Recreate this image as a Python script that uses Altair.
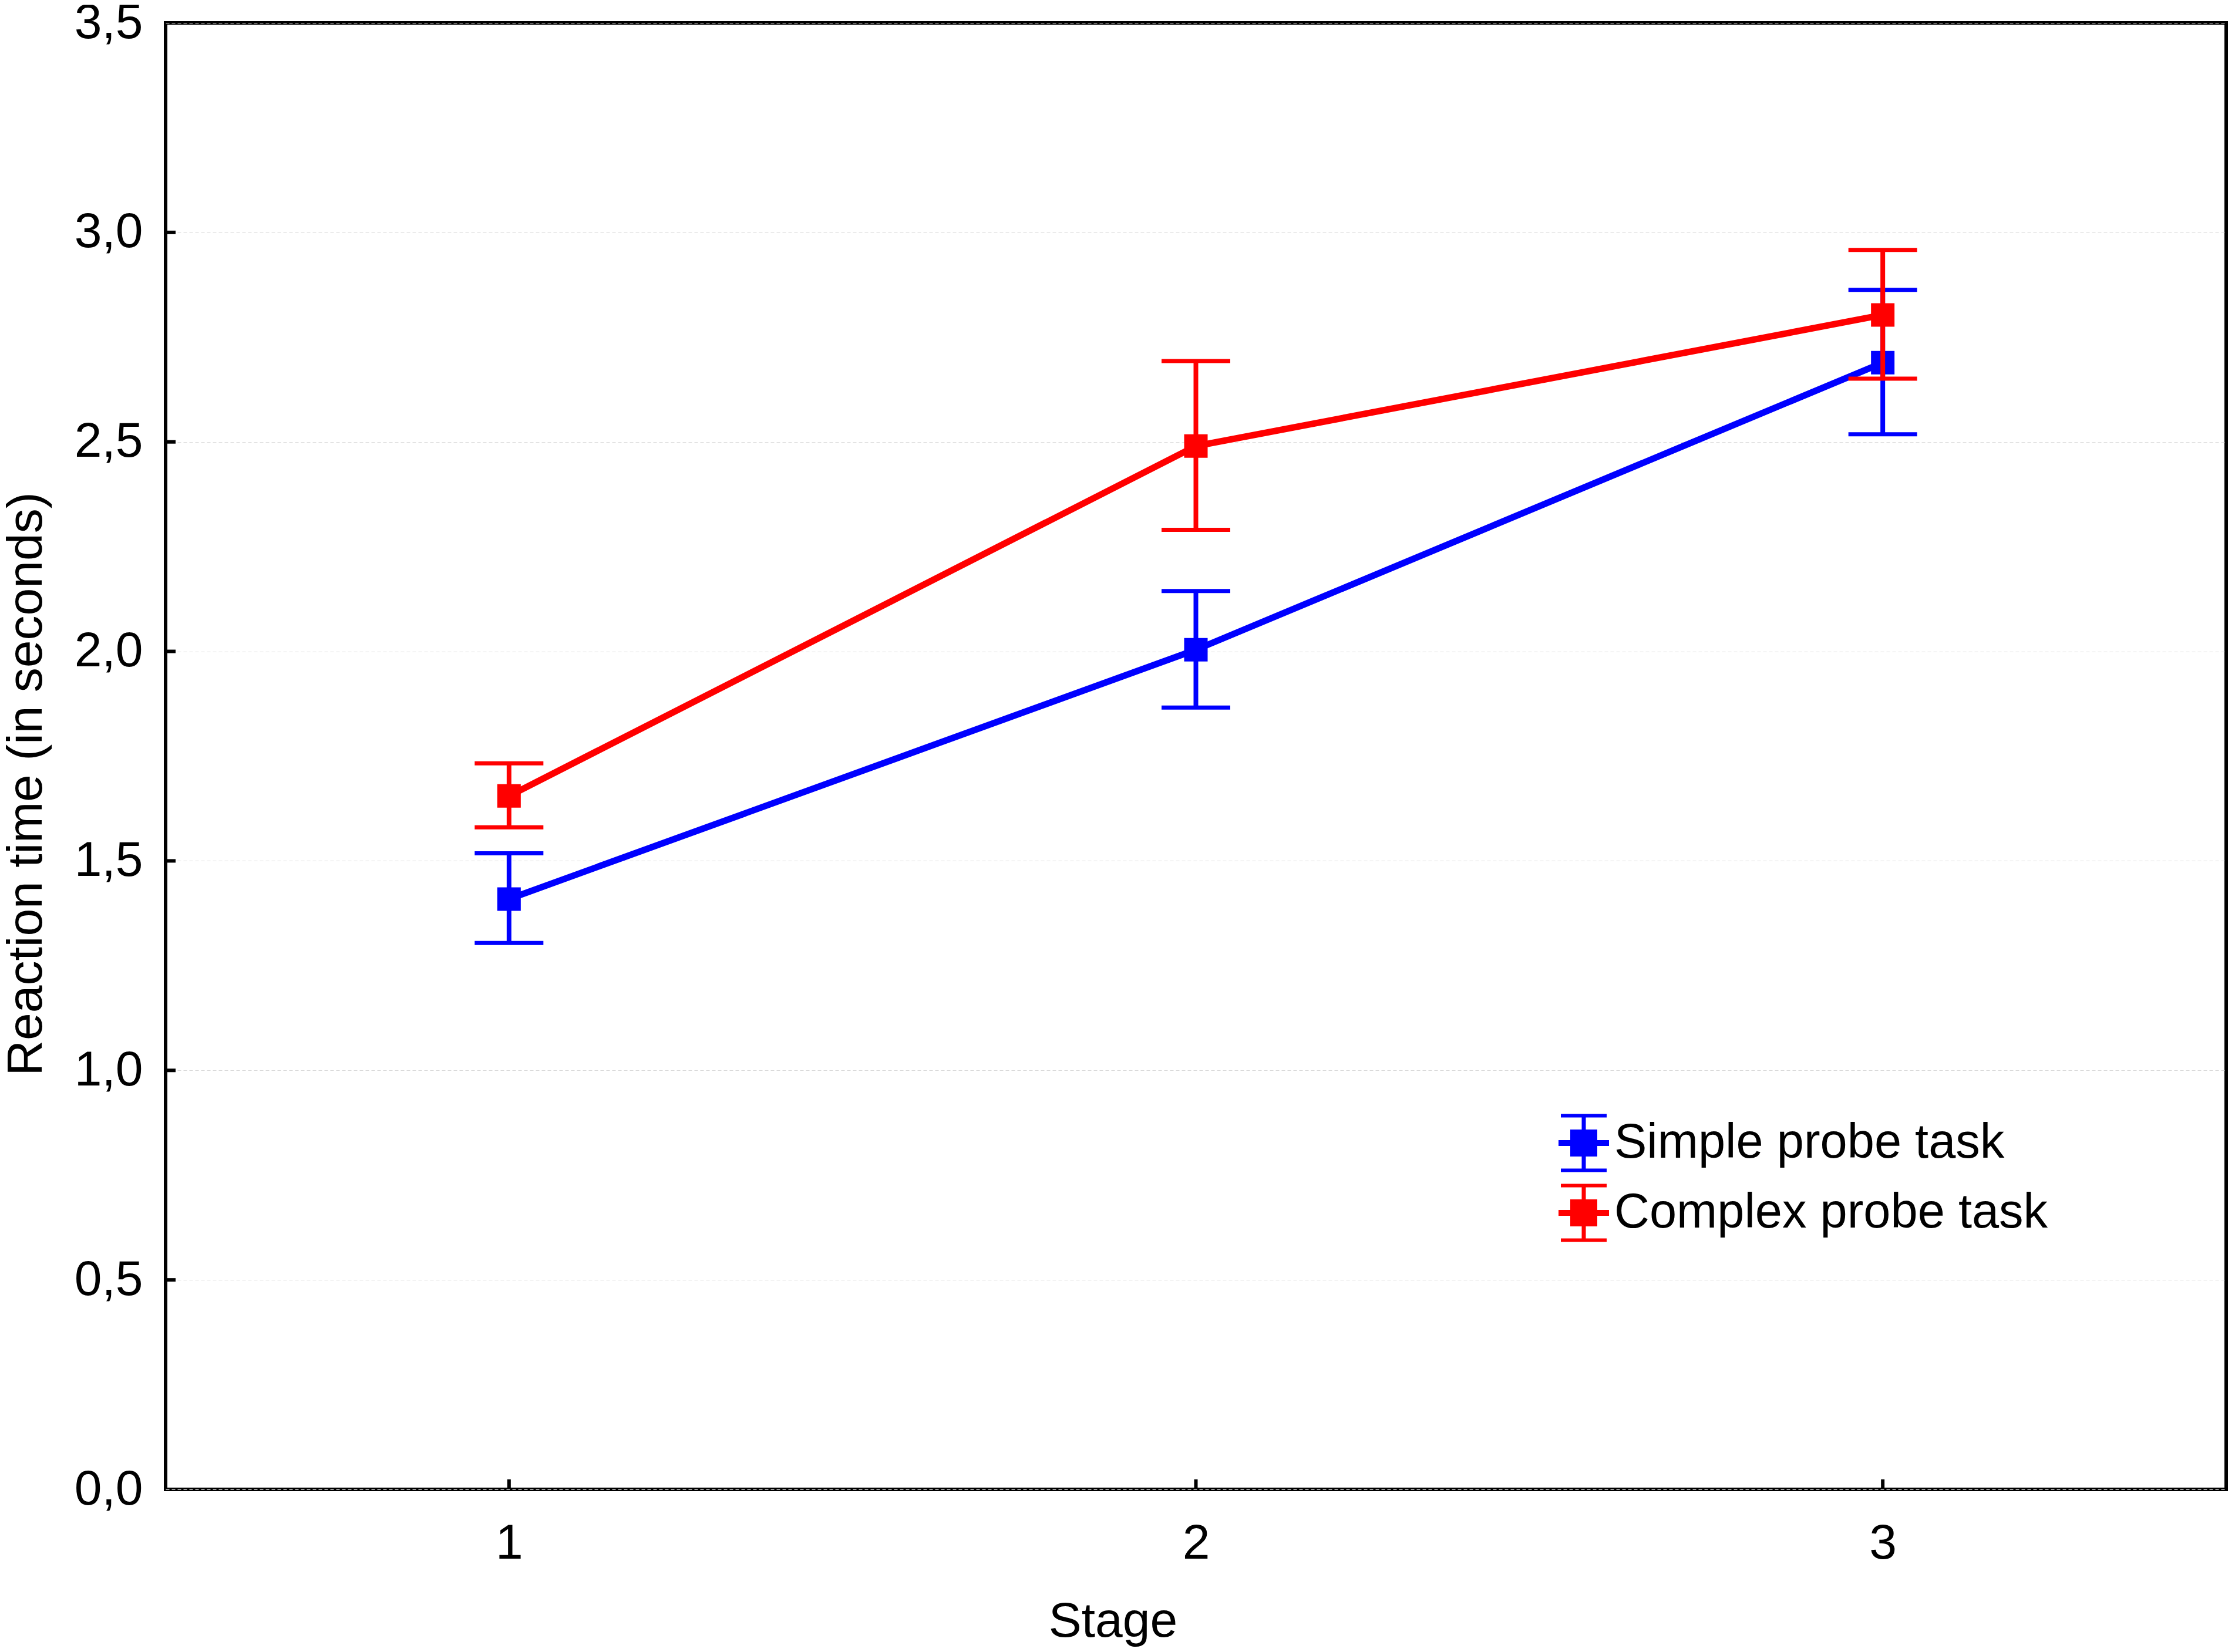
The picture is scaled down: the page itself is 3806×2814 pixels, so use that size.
import altair as alt
import pandas as pd

# ---- data ----
stages = [1, 2, 3]
series_names = ["Simple probe task", "Complex probe task"]
series_colors = ["#0000ff", "#ff0000"]

simple_mean = [1.409, 2.004, 2.689]
simple_lo = [1.304, 1.866, 2.518]
simple_hi = [1.518, 2.144, 2.863]

complex_mean = [1.655, 2.490, 2.803]
complex_lo = [1.580, 2.290, 2.651]
complex_hi = [1.733, 2.693, 2.958]

y_axis_values = [0.0, 0.5, 1.0, 1.5, 2.0, 2.5, 3.0, 3.5]
y_inner_ticks = [0.5, 1.0, 1.5, 2.0, 2.5, 3.0]
x_axis_values = [1, 2, 3]

rows = []
for name, means, los, his in [
    (series_names[0], simple_mean, simple_lo, simple_hi),
    (series_names[1], complex_mean, complex_lo, complex_hi),
]:
    for s, m, lo, hi in zip(stages, means, los, his):
        rows.append({"stage": s, "series": name, "mean": m, "lo": lo, "hi": hi})
df = pd.DataFrame(rows)
ytick_df = pd.DataFrame({"v": y_inner_ticks})
xtick_df = pd.DataFrame({"v": x_axis_values})

W, H = 3509, 2498
FONT = "Liberation Sans"
FS = 84

xscale = alt.Scale(domain=[0.5, 3.5], nice=False, zero=False)
yscale = alt.Scale(domain=[0, 3.5], nice=False, zero=False)

x_axis = alt.Axis(
    values=x_axis_values, format="d", title="Stage", grid=False, ticks=False, tickSize=0,
    domain=False, labelPadding=51, labelFontSize=FS, titleFontSize=FS, labelFont=FONT,
    titleFont=FONT, titleFontWeight="normal", labelColor="black", titleColor="black",
    titleX=1613, titleY=250, titleBaseline="alphabetic", titleAlign="center",
)
y_axis = alt.Axis(
    values=y_axis_values, labelExpr="replace(format(datum.value, '.1f'), '.', ',')",
    title="Reaction time (in seconds)", grid=True, gridDash=[6, 4], gridColor="#d9d9d9",
    gridWidth=1, ticks=False, tickSize=0, domain=False, labelPadding=39,
    labelFontSize=FS, titleFontSize=FS, labelFont=FONT, titleFont=FONT,
    titleFontWeight="normal", labelColor="black", titleColor="black",
    titleX=-212, titleY=1296, titleAngle=270, titleBaseline="alphabetic", titleAlign="center",
)


def rect(x0, y0, x1, y1):
    return f"M{x0},{y0}L{x1},{y0}L{x1},{y1}L{x0},{y1}Z"


legend_symbol = (
    rect(-0.78, -0.99, 0.78, -0.87)
    + rect(-0.78, 0.87, 0.78, 0.99)
    + rect(-0.07, -0.93, 0.07, 0.93)
    + rect(-0.46, -0.46, 0.46, 0.46)
    + rect(-0.86, -0.1, 0.86, 0.1)
)

legend = alt.Legend(
    title=None, orient="none", legendX=2365, legendY=1858, symbolType=legend_symbol,
    symbolSize=10000, symbolStrokeWidth=0, labelFontSize=83, labelFont=FONT,
    labelColor="black", labelOffset=2, rowPadding=19, padding=0, labelLimit=2000,
)

X = alt.X("stage:Q", scale=xscale, axis=x_axis)

layers = []
for name, col in zip(series_names, series_colors):
    b = alt.Chart(df).transform_filter(alt.datum.series == name)
    layers.append(
        b.mark_line(color=col, strokeWidth=11).encode(
            x=X, y=alt.Y("mean:Q", scale=yscale, axis=y_axis)
        )
    )
    layers.append(
        b.mark_rule(color=col, strokeWidth=8).encode(
            x=X, y=alt.Y("lo:Q", scale=yscale, axis=y_axis), y2="hi:Q"
        )
    )
    layers.append(
        b.mark_tick(orient="horizontal", color=col, size=117, thickness=7, opacity=1).encode(
            x=X, y=alt.Y("lo:Q", scale=yscale, axis=y_axis)
        )
    )
    layers.append(
        b.mark_tick(orient="horizontal", color=col, size=117, thickness=7, opacity=1).encode(
            x=X, y=alt.Y("hi:Q", scale=yscale, axis=y_axis)
        )
    )
    layers.append(
        b.mark_square(size=1600, filled=True, opacity=1).encode(
            x=X,
            y=alt.Y("mean:Q", scale=yscale, axis=y_axis),
            color=alt.Color(
                "series:N",
                scale=alt.Scale(domain=series_names, range=series_colors),
                legend=legend,
            ),
        )
    )

ytick_layer = alt.Chart(ytick_df).mark_rule(color="black", strokeWidth=6).encode(
    y=alt.Y("v:Q", scale=yscale, axis=y_axis), x=alt.value(0), x2=alt.value(17)
)
xtick_layer = alt.Chart(xtick_df).mark_rule(color="black", strokeWidth=6).encode(
    x=alt.X("v:Q", scale=xscale, axis=x_axis), y=alt.value(H), y2=alt.value(H - 17)
)

chart = (
    alt.layer(ytick_layer, xtick_layer, *layers)
    .properties(
        width=W,
        height=H,
        autosize=alt.AutoSizeParams(type="none"),
        padding={"left": 274, "top": 31, "right": 7, "bottom": 269},
        background="white",
    )
    .configure_view(stroke="black", strokeWidth=6)
)

chart.save("out.html", embed_options={"renderer": "svg", "actions": False})
